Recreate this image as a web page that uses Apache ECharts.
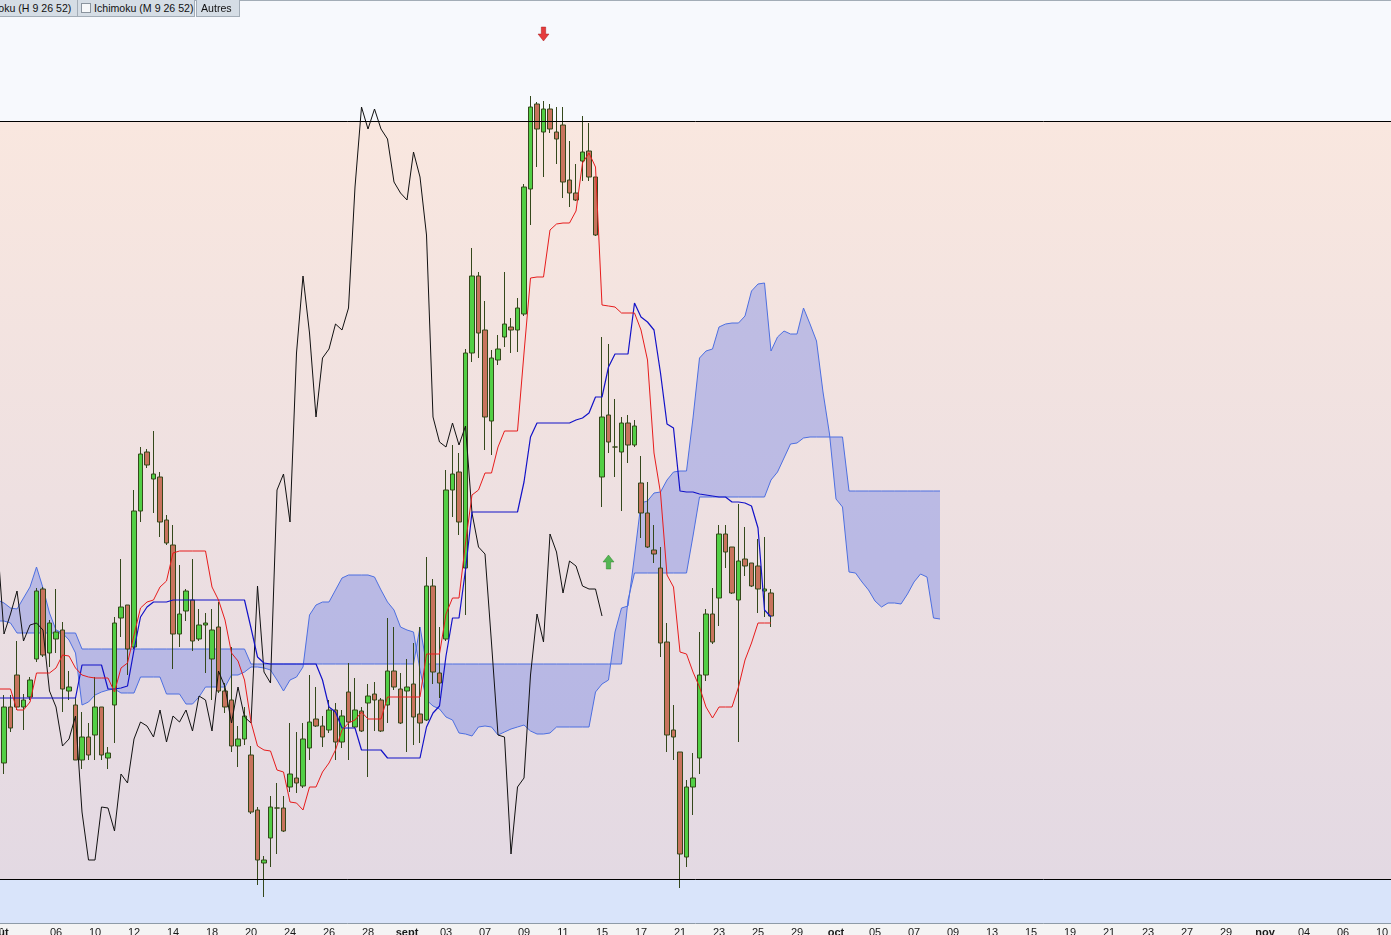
<!DOCTYPE html>
<html>
<head>
<meta charset="utf-8">
<script src="https://cdn.jsdelivr.net/npm/echarts@6/dist/echarts.min.js"></script>
<style>
html,body{margin:0;padding:0;background:#f4f4f4;overflow:hidden;width:1391px;height:935px}
#chart{position:absolute;left:0;top:0;width:1391px;height:935px}
#topline{position:absolute;left:0;top:0;width:1391px;height:1px;background:#a3adb7}
.tab{position:absolute;top:0;height:16px;line-height:16px;background:#d5dde5;border:1px solid #a3adb7;border-top:none;font-family:"Liberation Sans",Arial,sans-serif;font-size:10.6px;color:#111;white-space:nowrap;overflow:hidden}
.cb{display:inline-block;width:8px;height:8px;border:1px solid #8a949e;background:#f6f8fa;vertical-align:-1px;margin-right:3px}
</style>
</head>
<body>
<div id="chart"></div>
<div id="topline"></div>
<div class="tab" style="left:-32px;width:104px;padding-left:4px">Ichimoku (H 9 26 52)</div>
<div class="tab" style="left:77px;width:113px;padding-left:3px"><span class="cb"></span>Ichimoku (M 9 26 52)</div>
<div class="tab" style="left:196px;width:38px;padding-left:4px">Autres</div>
<script>
// ---- tick labels of the time axis (one every 6 bars) ----
const tickLabels = ['août','06','10','12','14','18','20','24','26','28','sept','03','07','09','11','15','17','21','23','25','29','oct','05','07','09','13','15','19','21','23','27','29','nov','04','06','10'];
const monthLabels = ['août','sept','oct','nov'];

// ---- candles, bar 0..118 : [open, close, low, high] ----
const candles = [
[23.7,29.3,22.6,30.5],[29.3,27.2,26.8,30.5],[32.5,29.3,29.0,35.9],[29.3,30.0,27.0,30.6],[30.3,32.0,30.0,32.3],
[34.1,40.9,33.8,41.2],[41.1,34.5,34.3,41.3],[34.7,37.7,33.3,38.0],[36.1,36.8,34.7,41.1],[37.0,31.1,28.8,37.8],
[30.9,31.3,30.0,32.9],[29.5,24.0,24.0,30.3],[24.0,26.3,23.1,28.8],[26.3,24.5,24.0,27.7],[26.5,29.3,24.0,32.3],
[29.3,24.5,24.0,29.3],[24.2,24.7,23.1,25.3],[29.5,37.7,25.7,38.3],[38.2,39.3,36.3,44.1],[39.5,35.1,32.5,39.5],
[35.3,48.9,35.1,51.0],[48.9,54.6,47.8,55.3],[54.8,53.5,53.2,55.1],[52.1,52.6,48.7,56.9],[52.3,47.8,46.3,52.8],
[48.0,45.7,45.5,48.5],[45.5,36.6,33.1,47.5],[36.6,38.6,35.3,43.5],[38.9,40.9,37.9,41.1],[40.0,35.9,34.9,44.1],
[36.1,37.5,35.9,39.1],[37.5,37.7,32.7,38.7],[34.1,37.0,30.0,39.1],[37.3,30.9,30.7,39.8],[30.9,29.3,28.7,31.7],
[30.0,25.4,24.8,35.3],[25.4,26.1,23.3,27.4],[26.1,28.4,25.5,29.3],[24.5,18.8,18.6,25.4],[19.0,14.0,11.5,19.3],
[13.7,14.0,10.3,14.4],[16.2,19.3,13.3,20.4],[19.2,19.2,14.6,21.7],[19.2,16.9,16.8,20.4],[21.3,22.6,20.8,27.7],
[22.2,21.7,20.7,26.8],[21.4,26.1,21.2,27.7],[25.2,27.8,24.0,32.5],[28.1,27.4,27.3,31.3],[27.4,26.3,25.3,28.4],
[27.0,29.0,26.7,30.0],[29.0,25.8,24.0,29.7],[25.8,28.4,25.2,29.0],[30.8,27.8,24.0,33.7],[27.3,29.0,27.2,32.2],
[28.9,26.9,26.8,29.3],[29.7,30.4,22.3,31.6],[30.6,30.0,26.9,31.8],[30.0,26.9,26.8,30.2],[29.5,32.9,27.7,38.2],
[32.9,31.3,31.0,37.3],[31.1,27.7,27.6,32.7],[30.9,31.3,24.8,34.1],[31.6,28.3,25.5,35.7],[28.6,27.7,25.7,37.3],
[28.0,41.4,27.9,44.3],[41.4,32.8,31.6,42.1],[32.7,31.7,30.2,37.3],[36.1,51.0,35.9,53.0],[51.0,52.6,48.3,55.5],
[52.8,47.8,46.5,54.7],[43.2,64.7,38.5,65.1],[64.7,72.4,63.8,75.2],[72.4,66.7,64.2,72.8],[67.0,58.3,55.0,69.9],
[57.9,64.2,54.5,65.0],[64.0,65.1,63.5,66.5],[66.3,67.6,65.3,72.8],[67.3,67.0,64.7,68.2],[67.0,69.2,64.8,70.2],
[68.6,81.3,68.4,81.6],[81.1,89.3,77.5,90.4],[89.6,87.1,83.3,89.8],[86.8,89.1,82.3,89.9],[89.1,87.1,86.7,89.6],
[86.8,86.1,83.6,89.3],[87.5,81.8,80.2,89.3],[82.0,80.7,79.3,85.9],[80.7,80.0,79.9,83.6],[83.9,84.8,81.9,88.4],
[84.9,82.3,81.9,87.7],[82.3,76.5,76.4,82.3],[52.3,58.3,49.3,66.3],[58.5,55.8,54.7,65.6],[55.3,55.3,52.3,60.1],
[54.8,57.7,48.9,58.3],[57.7,55.5,53.7,58.5],[55.5,57.4,55.3,58.0],[51.7,48.7,46.2,54.4],[48.7,45.3,45.2,51.8],
[45.0,44.6,43.7,47.5],[43.2,35.7,34.3,45.3],[35.8,26.5,24.8,37.7],[27.0,26.3,24.0,29.5],[24.8,14.6,11.2,24.8],
[14.3,21.3,13.3,22.0],[21.3,22.2,18.5,24.7],[24.2,32.5,22.6,36.8],[32.5,38.6,31.9,39.1],[38.6,35.8,35.6,41.2],
[40.2,46.6,37.4,47.5],[46.6,44.8,43.2,47.5],[45.3,40.7,40.6,45.3],[40.0,43.9,25.8,49.6],[44.1,43.4,42.4,47.3],
[43.7,41.4,41.3,43.7],[43.4,41.1,38.7,46.1],[40.9,41.1,38.3,46.3],[40.7,38.4,37.3,41.1]
];

// ---- Tenkan (bar -1..118) ----
const tenkan = [31.1,31.1,31.1,29.0,29.0,29.8,32.7,32.7,32.7,33.2,
34.5,34.4,33.2,32.5,32.3,32.2,32.2,32.2,30.8,33.2,
33.7,36.5,39.2,39.8,40.0,41.3,41.9,44.7,44.9,44.9,
44.9,44.9,44.9,41.3,40.0,38.0,34.7,33.9,32.0,27.8,
25.4,25.0,24.9,23.0,22.8,19.8,19.7,19.0,21.3,21.3,
22.8,23.7,25.0,27.0,27.7,28.0,28.8,28.1,28.1,28.1,
30.3,30.3,30.3,30.3,30.3,30.3,34.6,34.6,34.6,38.6,
40.2,40.2,45.7,50.5,51.0,52.7,52.7,55.3,56.9,56.9,
56.9,64.7,72.2,72.3,72.3,77.0,77.6,77.7,77.7,78.9,
83.7,84.7,83.3,69.5,69.4,69.3,68.7,68.7,68.7,67.0,
64.0,54.7,50.7,42.5,41.3,34.8,34.6,32.8,31.3,29.3,
28.2,29.3,29.3,29.3,31.3,34.0,35.7,37.7,37.7,37.7];

// ---- Kijun (bar -1..118) ----
const kijun = [30.2,30.2,30.2,30.2,30.2,30.2,30.2,30.2,30.2,30.2,30.2,30.2,30.2,
33.5,33.5,33.5,33.5,
31.1,31.1,31.2,31.4,35.0,38.3,39.3,39.8,39.8,39.8,
40.0,40.0,40.0,40.0,40.0,40.0,40.0,40.0,40.0,40.0,40.0,40.0,
37.2,34.3,33.7,
33.6,33.6,33.6,33.6,33.6,33.6,33.6,33.6,
32.0,29.3,28.8,
27.2,27.2,27.2,
25.0,25.0,25.0,25.0,
24.2,24.2,24.2,24.2,24.2,24.2,
27.3,28.7,29.4,34.4,38.2,38.2,43.0,
48.8,48.8,48.8,48.8,48.8,48.8,48.8,48.8,
51.8,56.3,
57.7,57.7,57.7,57.7,57.7,57.7,
58.0,58.2,58.7,60.3,60.3,63.3,
64.6,64.6,64.6,
69.7,68.3,67.8,67.0,62.7,57.6,57.2,50.9,50.8,50.8,50.6,50.5,50.4,50.3,50.3,49.8,49.8,49.7,49.4,47.2,39.0,38.3];

// ---- Senkou span A (bar -1..144) ----
const senkouA = [40.0,39.7,39.2,39.1,40.2,41.3,43.3,41.2,38.7,37.0,
36.7,36.0,34.7,29.5,29.8,30.5,30.8,31.0,31.1,30.7,
30.7,30.7,32.3,32.3,32.3,32.3,30.6,30.6,30.6,29.6,
29.6,30.3,31.3,31.3,31.3,31.3,32.5,32.5,32.8,33.3,
33.3,33.2,33.0,32.0,30.9,32.0,32.3,33.3,38.5,39.5,
39.8,39.8,41.0,42.2,42.5,42.5,42.5,42.5,42.3,41.0,
39.8,39.0,37.3,37.0,36.8,33.0,30.0,29.4,29.1,28.3,
28.0,26.7,26.6,26.4,27.3,27.4,27.3,26.5,26.8,27.1,
27.3,27.5,26.9,26.6,26.6,26.7,27.3,27.3,27.3,27.3,
27.3,27.3,30.8,31.6,32.0,36.8,39.2,39.4,44.4,49.7,
49.9,50.7,50.8,52.0,52.8,52.9,52.9,58.2,64.2,64.9,
65.1,67.3,67.6,67.7,67.7,68.4,70.9,71.6,71.7,64.9,
66.3,66.9,66.6,66.6,69.2,67.6,65.9,60.8,56.6,50.1,
49.3,42.8,42.7,41.8,41.0,39.9,39.3,39.7,39.7,39.6,
40.6,41.8,42.6,42.3,38.2,38.1];

// ---- Senkou span B (bar -1..144) ----
const senkouB = [37.9,37.9,37.7,
36.7,36.7,36.7,36.7,36.7,36.7,36.7,36.7,36.7,36.7,
35.1,35.1,35.1,35.1,35.1,35.1,35.1,35.1,35.1,35.1,35.1,35.1,35.1,35.1,35.1,35.1,35.1,35.1,35.1,35.1,35.1,35.1,35.1,35.1,35.1,35.1,
33.6,33.6,33.6,33.6,33.6,33.6,33.6,33.6,33.6,33.6,33.6,33.6,33.6,33.6,33.6,33.6,33.6,33.6,33.6,33.6,33.6,33.6,33.6,33.6,33.6,33.6,
37.3,
33.6,33.6,33.6,33.6,33.6,33.6,33.6,33.6,33.6,33.6,33.6,33.6,33.6,33.6,33.6,33.6,33.6,33.6,33.6,33.6,33.6,33.6,33.6,33.6,33.6,33.6,33.6,33.6,33.6,33.6,33.6,
40.0,
42.7,42.7,42.7,42.7,42.7,42.7,42.7,42.7,42.7,
46.4,
50.3,50.3,50.3,50.3,50.3,50.3,50.3,50.3,50.3,50.3,50.3,
52.0,52.8,54.2,55.6,55.7,56.2,
56.3,56.3,56.3,56.3,56.3,56.3,
50.9,50.9,50.9,50.9,50.9,50.9,50.9,50.9,50.9,50.9,50.9,50.9,50.9,50.9,50.9];

// ---- horizontal levels and signals ----
const levels = [87.9, 12.1];
const zoneTop = 100, zoneBottom = 7.7;
const signalsDown = [[83, 96.6]];   // [bar, price]
const signalsUp = [[93, 43.8]];

// ---- build ----
const N = 215;                       // category slots: bar -1 .. 213
const categories = [];
for (let k = 0; k < N; k++) categories.push(String(k - 1));
const pad = (arr, start) => { const out = new Array(N).fill(null); arr.forEach((v, j) => { out[start + j] = v; }); return out; };
const chikou = candles.slice(25).map(c => c[1]);   // close plotted 26 bars back, starting at bar -1
const isTick = idx => idx % 6 === 3;

const chart = echarts.init(document.getElementById('chart'), null, { renderer: 'canvas' });
const lineBase = { type: 'line', symbol: 'none', silent: true, animation: false, connectNulls: false };

chart.setOption({
  animation: false,
  backgroundColor: '#f4f4f4',
  grid: { left: -5.75, top: 0, width: 1397.5, height: 923, containLabel: false, outerBoundsMode: 'none', show: false },
  xAxis: {
    type: 'category', data: categories, boundaryGap: true,
    axisLine: { lineStyle: { color: '#8e9ba8', width: 1 } },
    axisTick: { interval: (i) => isTick(i), alignWithLabel: true, length: 3, lineStyle: { color: '#8e9ba8' } },
    splitLine: { show: false },
    axisLabel: {
      interval: (i) => isTick(i), margin: 4, color: '#1a1a1a', fontSize: 11, fontFamily: 'Liberation Sans, Arial, sans-serif',
      formatter: (v, idx) => {
        const k = Math.round((Number(v) + 1 - 3) / 6);
        const t = tickLabels[k];
        if (t === undefined) return '';
        if (k === 0) return '{a|' + t + '}';
        return monthLabels.indexOf(t) >= 0 ? '{b|' + t + '}' : t;
      },
      rich: {
        a: { fontWeight: 'bold', fontSize: 11, color: '#1a1a1a', fontFamily: 'Liberation Sans, Arial, sans-serif', padding: [0, 40, 0, 0] },
        b: { fontWeight: 'bold', fontSize: 11, color: '#1a1a1a', fontFamily: 'Liberation Sans, Arial, sans-serif' }
      }
    }
  },
  yAxis: { type: 'value', min: zoneBottom, max: zoneTop, show: false, splitLine: { show: false } },
  series: [
    { type: 'line', data: [], z: 0, silent: true,
      markArea: { silent: true, data: [
        [{ yAxis: levels[0], itemStyle: { color: '#f7f9fd' } }, { yAxis: zoneTop }],
        [{ yAxis: levels[1], itemStyle: { color: new echarts.graphic.LinearGradient(0, 0, 0, 1, [{ offset: 0, color: '#f9e7df' }, { offset: 1, color: '#e3d9e3' }]) } }, { yAxis: levels[0] }],
        [{ yAxis: zoneBottom, itemStyle: { color: '#d9e4fa' } }, { yAxis: levels[1] }]
      ] },
      markLine: { silent: true, symbol: 'none', label: { show: false }, lineStyle: { color: '#000', width: 1, type: 'solid' },
        data: levels.map(v => ({ yAxis: v })) }
    },
    { type: 'custom', z: 1, silent: true, data: [[0, 50]], clip: true,
      renderItem: (params, api) => {
        const pts = [];
        for (let j = 0; j < senkouA.length; j++) pts.push(api.coord([j, senkouA[j]]));
        for (let j = senkouB.length - 1; j >= 0; j--) pts.push(api.coord([j, senkouB[j]]));
        return { type: 'polygon', shape: { points: pts }, style: { fill: 'rgba(96,118,232,0.36)' } };
      }
    },
    Object.assign({}, lineBase, { name: 'Senkou A', z: 2, data: pad(senkouA, 0), lineStyle: { color: '#4d6fe0', width: 1 } }),
    Object.assign({}, lineBase, { name: 'Senkou B', z: 2, data: pad(senkouB, 0), lineStyle: { color: '#4d6fe0', width: 1 } }),
    { type: 'candlestick', z: 3, silent: true, animation: false, barWidth: 5,
      data: candles.map((c, i) => [i + 1, c[0], c[1], c[2], c[3]]),
      encode: { x: 0, y: [1, 2, 3, 4] },
      itemStyle: { color: '#52cf45', color0: '#c8735d', borderColor: '#34481b', borderColor0: '#34481b', borderWidth: 1 }
    },
    Object.assign({}, lineBase, { name: 'Chikou', z: 4, data: pad(chikou, 0), lineStyle: { color: '#111111', width: 1 } }),
    Object.assign({}, lineBase, { name: 'Kijun', z: 4, data: pad(kijun, 0), lineStyle: { color: '#1212c8', width: 1.2 } }),
    Object.assign({}, lineBase, { name: 'Tenkan', z: 4, data: pad(tenkan, 0), lineStyle: { color: '#e61c1c', width: 1 } }),
    { type: 'scatter', z: 5, silent: true, data: signalsDown.map(s => [s[0] + 1, s[1]]),
      symbol: 'path://M3,0 L7,0 L7,6 L10,6 L5,12 L0,6 L3,6 Z', symbolSize: [11, 14],
      itemStyle: { color: '#e00d0d', borderColor: '#9a0a0a', borderWidth: 0.5 } },
    { type: 'scatter', z: 5, silent: true, data: signalsUp.map(s => [s[0] + 1, s[1]]),
      symbol: 'path://M5,0 L10,6 L7,6 L7,12 L3,12 L3,6 L0,6 Z', symbolSize: [11, 14],
      itemStyle: { color: '#2eaa30', borderColor: '#1c7a1c', borderWidth: 0.5 } }
  ]
});
</script>
</body>
</html>
